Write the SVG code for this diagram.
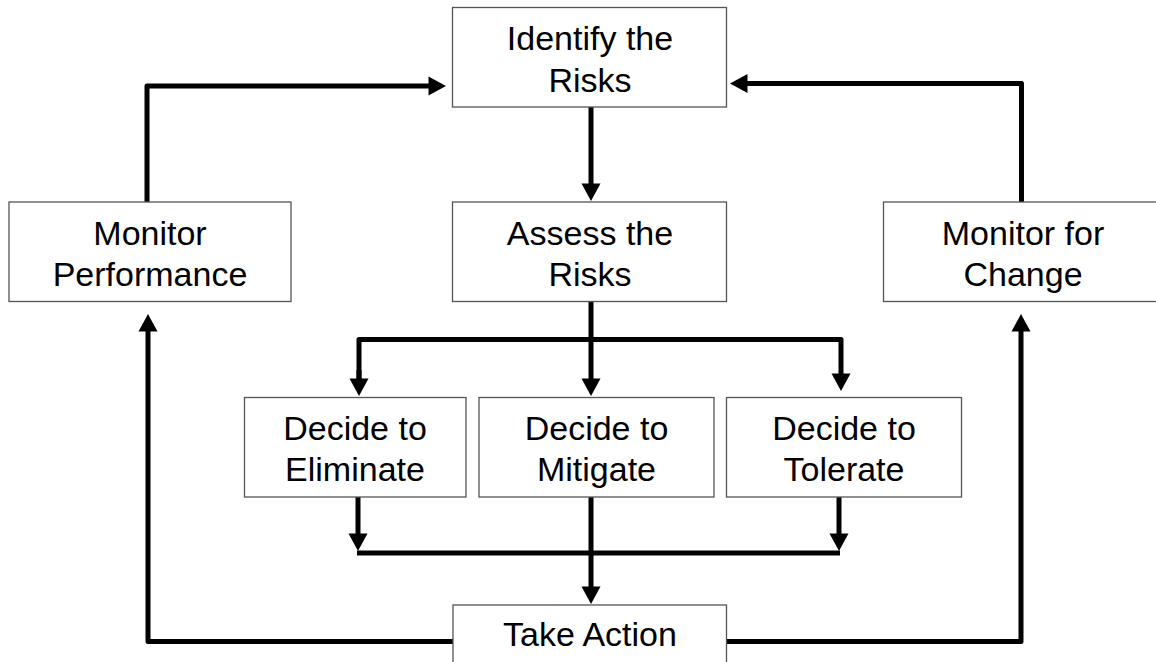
<svg xmlns="http://www.w3.org/2000/svg" width="1156" height="662" viewBox="0 0 1156 662">
<style>
.box{fill:#fff;stroke:#555;stroke-width:1.3}
.lbl{font-family:"Liberation Sans",Arial,sans-serif;font-size:34px;fill:#000;text-anchor:middle}
.con{fill:none;stroke:#000;stroke-width:5;stroke-linejoin:round;stroke-linecap:butt}
</style>
<defs>
<marker id="ah" markerUnits="userSpaceOnUse" markerWidth="19" markerHeight="19" viewBox="0 0 18 19" refX="0.5" refY="9.5" orient="auto" overflow="visible">
<path d="M0,0 L17.5,9.5 L0,19 Z" fill="#000"/>
</marker>
</defs>
<rect width="1156" height="662" fill="#fff"/>
<g id="connectors">
<path class="con" d="M591,107 V184" marker-end="url(#ah)"/>
<path class="con" d="M591,302 V379" marker-end="url(#ah)"/>
<path class="con" d="M359,379 V339.5 H841 V374" marker-end="url(#ah)"/>
<path class="con" d="M359,370 V379" marker-end="url(#ah)"/>
<path class="con" d="M358,497 V534" marker-end="url(#ah)"/>
<path class="con" d="M839,497 V534" marker-end="url(#ah)"/>
<path class="con" d="M357,553 H840"/>
<path class="con" d="M591,497 V587" marker-end="url(#ah)"/>
<path class="con" d="M453,641.5 H148 V331" marker-end="url(#ah)"/>
<path class="con" d="M726,641.5 H1021 V331" marker-end="url(#ah)"/>
<path class="con" d="M147,202 V86 H429" marker-end="url(#ah)"/>
<path class="con" d="M1021.5,202 V83.5 H747" marker-end="url(#ah)"/>
</g>
<g id="identify"><rect class="box" x="452.5" y="7.5" width="274" height="99.5"/><text class="lbl" x="590" y="50">Identify the</text><text class="lbl" x="590" y="91.5">Risks</text></g>
<g id="assess"><rect class="box" x="452.5" y="202" width="274" height="99.5"/><text class="lbl" x="590" y="244.5">Assess the</text><text class="lbl" x="590" y="286">Risks</text></g>
<g id="monitor-performance"><rect class="box" x="9" y="202" width="282" height="99.5"/><text class="lbl" x="150" y="244.5">Monitor</text><text class="lbl" x="150" y="286">Performance</text></g>
<g id="monitor-change"><rect class="box" x="883.5" y="202" width="274" height="99.5"/><text class="lbl" x="1023" y="244.5">Monitor for</text><text class="lbl" x="1023" y="286">Change</text></g>
<g id="eliminate"><rect class="box" x="244.5" y="397.5" width="221.5" height="99.5"/><text class="lbl" x="355" y="439.5">Decide to</text><text class="lbl" x="355" y="481">Eliminate</text></g>
<g id="mitigate"><rect class="box" x="479" y="397.5" width="235" height="99.5"/><text class="lbl" x="596.5" y="439.5">Decide to</text><text class="lbl" x="596.5" y="481">Mitigate</text></g>
<g id="tolerate"><rect class="box" x="726.5" y="397.5" width="235" height="99.5"/><text class="lbl" x="844" y="439.5">Decide to</text><text class="lbl" x="844" y="481">Tolerate</text></g>
<g id="take-action"><rect class="box" x="453" y="605" width="273.5" height="99.5"/><text class="lbl" x="590" y="646">Take Action</text></g>
</svg>
